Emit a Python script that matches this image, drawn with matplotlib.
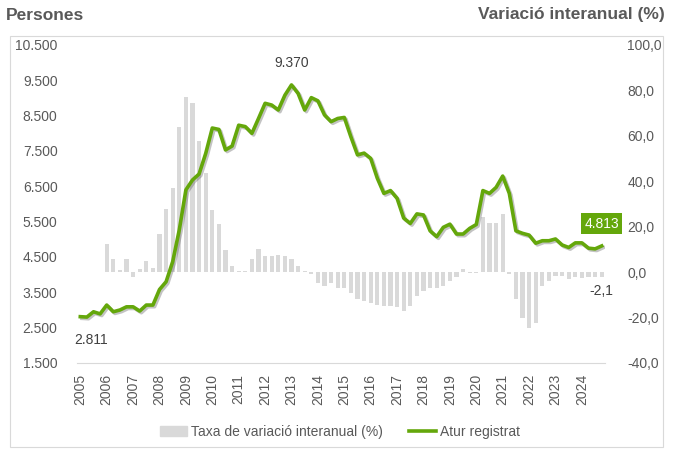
import numpy as np
import matplotlib
matplotlib.use("Agg")
import matplotlib.pyplot as plt
import matplotlib.patheffects as pe
from matplotlib.lines import Line2D
from matplotlib.patches import Patch, Rectangle
from matplotlib.ticker import FuncFormatter, FixedLocator

plt.rcParams['font.family'] = ['Liberation Sans', 'DejaVu Sans']

# dades trimestrals 2005T1 - 2024T4
years = list(range(2005, 2025))

atur = [2811, 2800, 2950, 2890, 3140, 2950, 3000, 3090, 3090, 2970,
        3140, 3140, 3580, 3800, 4370, 5270, 6400, 6680, 6850, 7430,
        8150, 8110, 7530, 7640, 8230, 8190, 8000, 8420, 8850, 8800,
        8660, 9080, 9370, 9130, 8660, 9010, 8920, 8520, 8330, 8420,
        8450, 7900, 7390, 7440, 7290, 6730, 6300, 6380, 6160, 5600,
        5450, 5720, 5690, 5240, 5075, 5340, 5430, 5150, 5150, 5310,
        5420, 6380, 6300, 6470, 6790, 6300, 5240, 5170, 5120, 4890,
        4960, 4960, 5010, 4840, 4770, 4900, 4900, 4750, 4730, 4813]

taxa = [np.nan, np.nan, np.nan, np.nan, 12.6, 5.6, 0.9, 5.9, -2.0, 1.2,
        5.1, 1.8, 16.6, 27.9, 37.2, 63.9, 77.1, 74.3, 57.7, 43.5,
        27.2, 21.0, 9.7, 2.9, 0.7, 0.7, 5.6, 10.0, 7.0, 7.0,
        7.6, 7.3, 5.9, 2.9, 0.3, -1.0, -5.0, -6.2, -4.7, -6.9,
        -6.9, -9.1, -11.7, -12.8, -13.5, -14.4, -15.0, -15.0, -15.3, -16.9,
        -15.0, -10.6, -8.4, -6.9, -6.9, -5.9, -4.0, -2.1, 1.2, -0.3,
        -0.3, 24.4, 21.7, 21.7, 25.4, -1.0, -12.0, -20.1, -24.5, -22.3,
        -5.9, -4.0, -1.8, -1.8, -3.2, -2.1, -2.5, -2.1, -2.1, -2.1]

green = '#64A70B'
grey_bar = '#D9D9D9'
txt = '#595959'

x = np.arange(len(atur))

fig = plt.figure(figsize=(6.8, 4.5), dpi=100)
ax = fig.add_axes([77 / 680, 1 - 363 / 450, (605 - 77) / 680, (363 - 45) / 450])
ax2 = ax.twinx()

# barres (eix dret)
ax2.bar(x, taxa, width=0.62, color=grey_bar, zorder=1)
ax2.set_ylim(-40, 100)
ax2.yaxis.set_major_locator(FixedLocator(np.arange(-40, 101, 20)))
ax2.yaxis.set_major_formatter(FuncFormatter(lambda v, p: f"{v:.1f}".replace('.', ',')))

# línia (eix esquerre), per sobre de les barres
ax.set_zorder(ax2.get_zorder() + 1)
ax.patch.set_visible(False)
ax.plot(x, atur, color=green, lw=2.6, solid_joinstyle='round',
        path_effects=[pe.SimpleLineShadow(offset=(1.2, -1.2), alpha=0.35, shadow_color='#555555'),
                      pe.Normal()])
ax.set_ylim(1500, 10500)
ax.yaxis.set_major_locator(FixedLocator(np.arange(1500, 10501, 1000)))
ax.yaxis.set_major_formatter(FuncFormatter(lambda v, p: f"{int(v):,}".replace(',', '.')))
ax.set_xlim(-0.5, len(atur) - 0.5)
ax.set_xticks(x[::4])
ax.set_xticklabels([str(y) for y in years], rotation=90)

for a in (ax, ax2):
    for s in a.spines.values():
        s.set_visible(False)
    a.tick_params(length=0, labelsize=10, colors=txt)
ax.spines['bottom'].set_visible(True)
ax.spines['bottom'].set_color('#D9D9D9')
ax.tick_params(axis='y', pad=14)
ax.tick_params(axis='x', pad=8)
ax2.tick_params(axis='y', pad=16)

# etiquetes de dades
def fmt_int(v):
    return f"{int(v):,}".replace(',', '.')

i_max = int(np.argmax(atur))
ax.annotate(fmt_int(atur[0]), (x[0], atur[0]), xytext=(8, -22), textcoords='offset points',
            ha='center', va='bottom', fontsize=10, color='#404040')
ax.annotate(fmt_int(atur[i_max]), (x[i_max], atur[i_max]), xytext=(0, 11), textcoords='offset points',
            ha='center', va='bottom', fontsize=10, color='#404040')
ax.annotate(fmt_int(atur[-1]), (x[-1], atur[-1]), xytext=(0, 11), textcoords='offset points',
            ha='center', va='bottom', fontsize=10, color='white',
            bbox=dict(boxstyle='square,pad=0.25', fc=green, ec='none'))
ax2.annotate(f"{taxa[-1]:.1f}".replace('.', ','), (x[-1], taxa[-1]), xytext=(0, -5),
             textcoords='offset points', ha='center', va='top', fontsize=10, color='#404040')

# títols dels eixos
fig.text(6 / 680, 1 - 15 / 450, 'Persones', fontsize=12.5, fontweight='bold', color=txt,
         ha='left', va='center')
fig.text(665 / 680, 1 - 15 / 450, 'Variació interanual (%)', fontsize=12.5, fontweight='bold',
         color=txt, ha='right', va='center')

# llegenda
handles = [Patch(color=grey_bar, label='Taxa de variació interanual (%)'),
           Line2D([0], [0], color=green, lw=2.6, label='Atur registrat')]
fig.legend(handles=handles, loc='center', bbox_to_anchor=(0.5, 1 - 432 / 450), ncol=2,
           frameon=False, fontsize=10, handlelength=1.9, handleheight=0.8,
           handletextpad=0.3, columnspacing=1.9, labelcolor=txt)

# marc
fig.patches.append(Rectangle((10 / 680, 1 - 447 / 450), (663 - 10) / 680, (447 - 36) / 450,
                             transform=fig.transFigure, fill=False, ec='#D9D9D9', lw=0.8))

fig.savefig('out.png', dpi=100)
